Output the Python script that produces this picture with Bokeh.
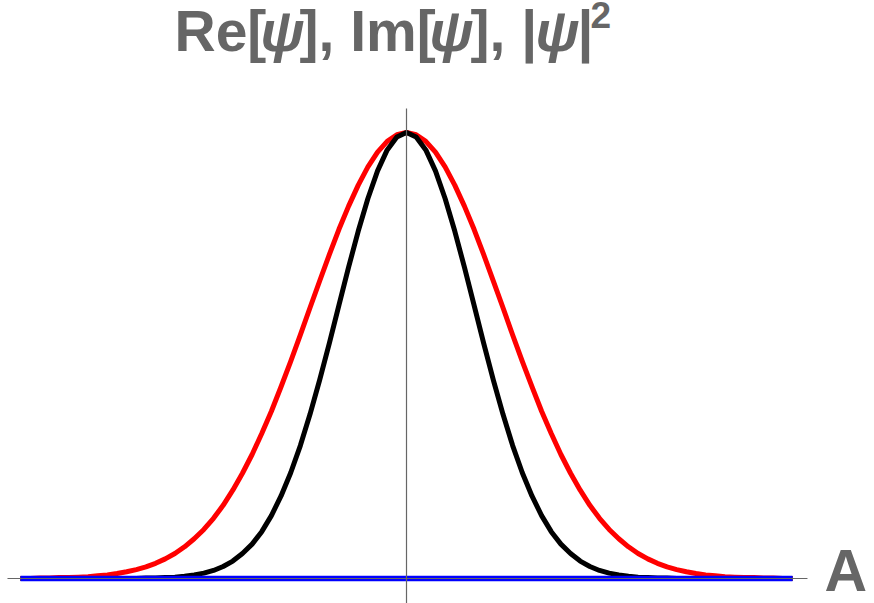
from bokeh.plotting import figure
from bokeh.models import Range1d, Label
from bokeh.embed import file_html
from bokeh.resources import INLINE

# ---- data ----
x_vals = [
    -4.0, -3.9, -3.8, -3.7, -3.6, -3.5, -3.4, -3.3, -3.2, -3.1,
    -3.0, -2.9, -2.8, -2.7, -2.6, -2.5, -2.4, -2.3, -2.2, -2.1,
    -2.0, -1.9, -1.8, -1.7, -1.6, -1.5, -1.4, -1.3, -1.2, -1.1,
    -1.0, -0.9, -0.8, -0.7, -0.6, -0.5, -0.4, -0.3, -0.2, -0.1,
    0.0,
    0.1, 0.2, 0.3, 0.4, 0.5, 0.6, 0.7, 0.8, 0.9, 1.0,
    1.1, 1.2, 1.3, 1.4, 1.5, 1.6, 1.7, 1.8, 1.9, 2.0,
    2.1, 2.2, 2.3, 2.4, 2.5, 2.6, 2.7, 2.8, 2.9, 3.0,
    3.1, 3.2, 3.3, 3.4, 3.5, 3.6, 3.7, 3.8, 3.9, 4.0,
]

re_psi = [
    0.000, 0.000, 0.001, 0.001, 0.002, 0.002, 0.003, 0.004, 0.006, 0.008,
    0.011, 0.015, 0.020, 0.026, 0.034, 0.044, 0.056, 0.071, 0.089, 0.110,
    0.135, 0.164, 0.198, 0.236, 0.278, 0.325, 0.375, 0.430, 0.487, 0.546,
    0.607, 0.667, 0.726, 0.783, 0.835, 0.882, 0.923, 0.956, 0.980, 0.995,
    1.000,
    0.995, 0.980, 0.956, 0.923, 0.882, 0.835, 0.783, 0.726, 0.667, 0.607,
    0.546, 0.487, 0.430, 0.375, 0.325, 0.278, 0.236, 0.198, 0.164, 0.135,
    0.110, 0.089, 0.071, 0.056, 0.044, 0.034, 0.026, 0.020, 0.015, 0.011,
    0.008, 0.006, 0.004, 0.003, 0.002, 0.002, 0.001, 0.001, 0.000, 0.000,
]

im_psi = [
    0.0, 0.0, 0.0, 0.0, 0.0, 0.0, 0.0, 0.0, 0.0, 0.0,
    0.0, 0.0, 0.0, 0.0, 0.0, 0.0, 0.0, 0.0, 0.0, 0.0,
    0.0, 0.0, 0.0, 0.0, 0.0, 0.0, 0.0, 0.0, 0.0, 0.0,
    0.0, 0.0, 0.0, 0.0, 0.0, 0.0, 0.0, 0.0, 0.0, 0.0,
    0.0,
    0.0, 0.0, 0.0, 0.0, 0.0, 0.0, 0.0, 0.0, 0.0, 0.0,
    0.0, 0.0, 0.0, 0.0, 0.0, 0.0, 0.0, 0.0, 0.0, 0.0,
    0.0, 0.0, 0.0, 0.0, 0.0, 0.0, 0.0, 0.0, 0.0, 0.0,
    0.0, 0.0, 0.0, 0.0, 0.0, 0.0, 0.0, 0.0, 0.0, 0.0,
]

abs_psi_sq = [
    0.000, 0.000, 0.000, 0.000, 0.000, 0.000, 0.000, 0.000, 0.000, 0.000,
    0.000, 0.000, 0.000, 0.001, 0.001, 0.002, 0.003, 0.005, 0.008, 0.012,
    0.018, 0.027, 0.039, 0.056, 0.077, 0.105, 0.141, 0.185, 0.237, 0.298,
    0.368, 0.445, 0.527, 0.613, 0.698, 0.779, 0.852, 0.914, 0.961, 0.990,
    1.000,
    0.990, 0.961, 0.914, 0.852, 0.779, 0.698, 0.613, 0.527, 0.445, 0.368,
    0.298, 0.237, 0.185, 0.141, 0.105, 0.077, 0.056, 0.039, 0.027, 0.018,
    0.012, 0.008, 0.005, 0.003, 0.002, 0.001, 0.001, 0.000, 0.000, 0.000,
    0.000, 0.000, 0.000, 0.000, 0.000, 0.000, 0.000, 0.000, 0.000, 0.000,
]

title_parts = ["Re[", "\u03c8", "], Im[", "\u03c8", "], |", "\u03c8", "|", "2"]
axis_label = "A"

# ---- figure ----
W, H = 874, 603
p = figure(width=W, height=H, output_backend="svg", toolbar_location=None,
           x_range=Range1d(-4.2073, 4.8497), y_range=Range1d(-0.0561, 1.2960),
           min_border=0, min_border_left=0, min_border_right=0,
           min_border_top=0, min_border_bottom=0)
p.xaxis.visible = False
p.yaxis.visible = False
p.grid.visible = False
p.outline_line_color = None
p.background_fill_color = "white"
p.border_fill_color = "white"

p.line(x_vals, re_psi, line_color="#ff0000", line_width=5, line_join="round")
p.line(x_vals, abs_psi_sq, line_color="#000000", line_width=5, line_join="round")
p.line(x_vals, im_psi, line_color="#0000ff", line_width=5.5)

# axes (drawn over the curves, as in the reference)
x_lo, x_hi = min(x_vals), max(x_vals)
p.segment(x0=[x_lo - 0.135], y0=[0.0], x1=[x_hi + 0.155], y1=[0.0],
          line_color="#666666", line_width=1.2)
p.segment(x0=[0.0], y0=[-0.07], x1=[0.0], y1=[1.054],
          line_color="#666666", line_width=1.2)

font = "Liberation Sans"
gray = "#666666"
fs = "57px"
base_y = 573
# (canvas x, style)
pieces = [
    (174, "bold"),
    (260, "bold italic"),
    (299, "bold"),
    (429, "bold italic"),
    (470, "bold"),
    (535, "bold italic"),
    (577, "bold"),
]
for (xx, style), txt in zip(pieces, title_parts[:7]):
    p.add_layout(Label(x=xx, y=base_y, x_units="screen", y_units="screen",
                       text=txt, text_font=font, text_font_size=fs,
                       text_font_style=style, text_color=gray,
                       text_baseline="alphabetic", text_align="left"))
p.add_layout(Label(x=590, y=589, x_units="screen", y_units="screen",
                   text=title_parts[7], text_font=font, text_font_size="37px",
                   text_font_style="bold", text_color=gray,
                   text_baseline="alphabetic", text_align="left"))

p.add_layout(Label(x=824, y=33, x_units="screen", y_units="screen",
                   text=axis_label, text_font=font, text_font_size="59px",
                   text_font_style="bold", text_color=gray,
                   text_baseline="alphabetic", text_align="left"))

open("out.html", "w").write(file_html(p, INLINE))
